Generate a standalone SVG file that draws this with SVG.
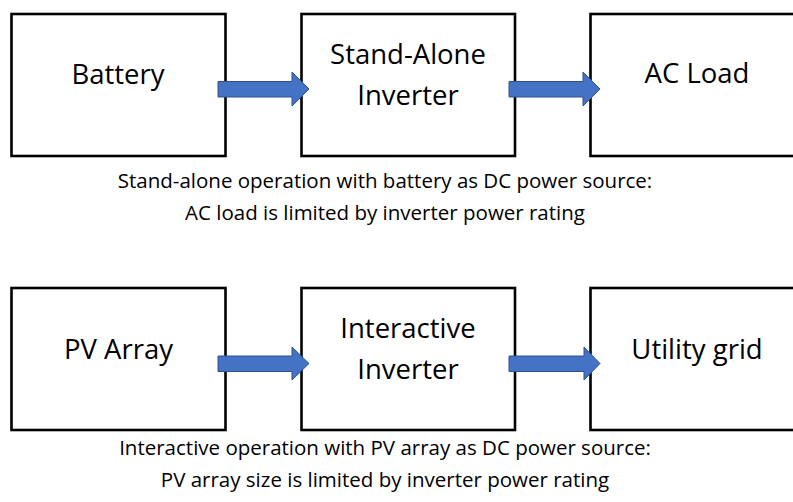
<svg xmlns="http://www.w3.org/2000/svg" width="793" height="502" viewBox="0 0 793 502">
<defs>
<style>
.box{fill:#ffffff;stroke:#000000;stroke-width:2.6}
.lbl{font-family:"Open Sans","Liberation Sans",sans-serif;font-size:27.5px;fill:#000000;text-anchor:middle}
.cap{font-family:"Open Sans","Liberation Sans",sans-serif;font-size:20.5px;fill:#000000;text-anchor:middle}
.arr{fill:#4472C4;stroke:#2F528F;stroke-width:1}
</style>
</defs>
<rect width="793" height="502" fill="#ffffff"/>
<g id="battery"><rect class="box" x="11.5" y="14" width="214" height="142"/><text class="lbl" x="118" y="84">Battery</text></g>
<g id="standalone-inverter"><rect class="box" x="301.5" y="14" width="213.5" height="142"/><text class="lbl" x="408" y="64">Stand-Alone</text><text class="lbl" x="408" y="105">Inverter</text></g>
<g id="ac-load"><rect class="box" x="590.5" y="14" width="214" height="142"/><text class="lbl" x="697" y="83">AC Load</text></g>
<g id="pv-array"><rect class="box" x="11.5" y="288" width="214" height="142"/><text class="lbl" x="118.5" y="359">PV Array</text></g>
<g id="interactive-inverter"><rect class="box" x="301.5" y="288" width="213.5" height="142"/><text class="lbl" x="408" y="338">Interactive</text><text class="lbl" x="408" y="379">Inverter</text></g>
<g id="utility-grid"><rect class="box" x="590.5" y="288" width="214" height="142"/><text class="lbl" x="697" y="359">Utility grid</text></g>
<g id="connectors">
<path class="arr" d="M218,81.5 H292 V72 L309,89 L292,106 V97 H218 Z"/>
<path class="arr" d="M509,81.5 H583 V72 L600,89 L583,106 V97 H509 Z"/>
<path class="arr" d="M218,356 H292 V347 L309,363.5 L292,380 V371.5 H218 Z"/>
<path class="arr" d="M509,356 H584 V347 L600,363.5 L584,380 V371.5 H509 Z"/>
</g>
<g id="captions">
<text class="cap" x="385" y="188">Stand-alone operation with battery as DC power source:</text>
<text class="cap" x="385" y="220">AC load is limited by inverter power rating</text>
<text class="cap" x="385" y="455">Interactive operation with PV array as DC power source:</text>
<text class="cap" x="385" y="487">PV array size is limited by inverter power rating</text>
</g>
</svg>
